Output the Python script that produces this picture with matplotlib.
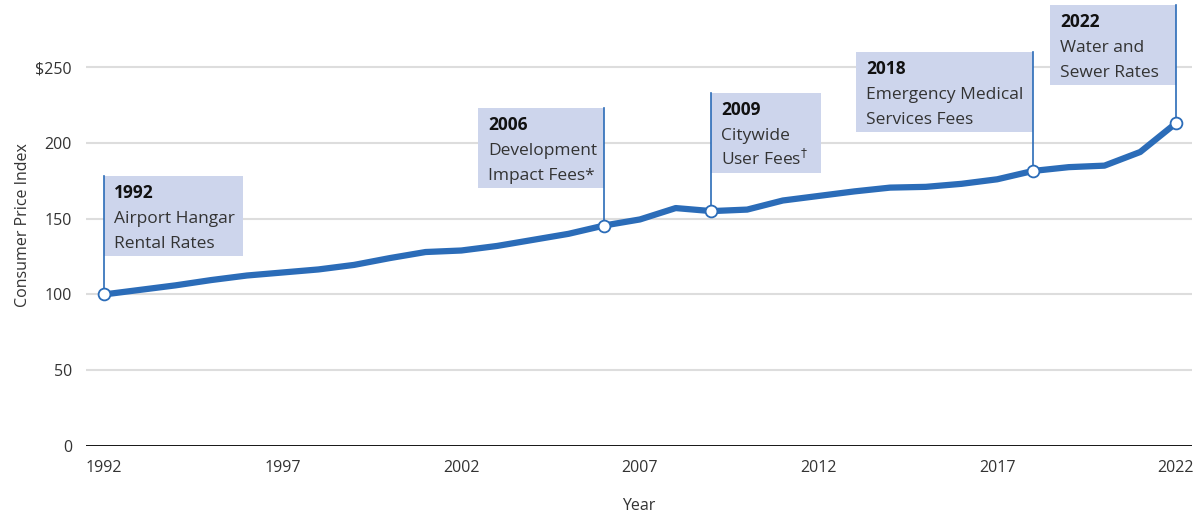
import matplotlib
matplotlib.use("Agg")
import matplotlib.pyplot as plt
from matplotlib.patches import Rectangle

years = list(range(1992, 2023))
cpi = [100, 103, 106, 109.5, 112.5, 114.5, 116.5, 119.5, 124, 128,
       129, 132, 136, 140, 145.5, 149.5, 157, 155, 156, 162,
       165, 168, 170.5, 171, 173, 176, 181.5, 184, 185, 194, 213]

ann_years = [1992, 2006, 2009, 2018, 2022]
ann_titles = ["1992", "2006", "2009", "2018", "2022"]
ann_bodies = ["Airport Hangar\nRental Rates", "Development\nImpact Fees*",
              "Citywide\nUser Fees$^{\\dagger}$", "Emergency Medical\nServices Fees",
              "Water and\nSewer Rates"]
# layout: side of box, box top (data), box width (years)
ann_side = ["right", "left", "right", "left", "left"]
ann_top = [178, 223, 233, 260, 291]
ann_width = [3.9, 3.53, 3.08, 4.95, 3.53]

yticks = [0, 50, 100, 150, 200, 250]
ytick_labels = ["0", "50", "100", "150", "200", "$250"]
xticks = [1992, 1997, 2002, 2007, 2012, 2017, 2022]

BLUE = "#2b6cb8"
BOX = "#cdd5ec"
TXT = "#333333"
plt.rcParams['font.family'] = ['Open Sans', 'DejaVu Sans']

fig = plt.figure(figsize=(12.03, 5.16), dpi=100)
W, H = 1203, 516
ax = fig.add_axes([86 / W, (516 - 446) / H, (1192 - 86) / W, (446 - 5) / H])
ax.set_xlim(1991.496, 2022.45)
ax.set_ylim(0, 291)

for s in ax.spines.values():
    s.set_visible(False)
ax.axhline(0, color="black", lw=2, zorder=3)
for t in yticks[1:]:
    ax.axhline(t, color="#dddddd", lw=1.5, zorder=0)

ax.set_yticks(yticks)
ax.set_yticklabels(ytick_labels)
ax.set_xticks(xticks)
ax.tick_params(length=0, labelsize=11.5, colors=TXT, pad=10)
ax.set_ylabel("Consumer Price Index", fontsize=11.5, color=TXT, labelpad=3)
ax.set_xlabel("Year", fontsize=11.5, color=TXT, labelpad=16)

ax.plot(years, cpi, color=BLUE, lw=4.5, zorder=4, solid_capstyle="butt")

box_h = 80 / 1.516
for yr, title, body, side, top, w in zip(ann_years, ann_titles, ann_bodies,
                                          ann_side, ann_top, ann_width):
    val = cpi[years.index(yr)]
    x0 = yr if side == "right" else yr - w
    ax.add_patch(Rectangle((x0, top - box_h), w, box_h, facecolor=BOX,
                           edgecolor="none", zorder=2, clip_on=False))
    ax.plot([yr, yr], [val, top], color=BLUE, lw=1.2, zorder=3, clip_on=False)
    ax.plot(yr, val, "o", ms=8.5, mfc="white", mec=BLUE, mew=1.3, zorder=5,
            clip_on=False)
    ax.annotate(title, xy=(x0, top), xytext=(10, -22), textcoords="offset pixels",
                fontsize=12.5, fontweight="bold", color="#111111", va="baseline",
                ha="left", zorder=6)
    for i, line in enumerate(body.split("\n")):
        ax.annotate(line, xy=(x0, top), xytext=(10, -47 - 25 * i),
                    textcoords="offset pixels", fontsize=12.5, color=TXT,
                    va="baseline", ha="left", zorder=6)

fig.savefig("out.png", dpi=100)
